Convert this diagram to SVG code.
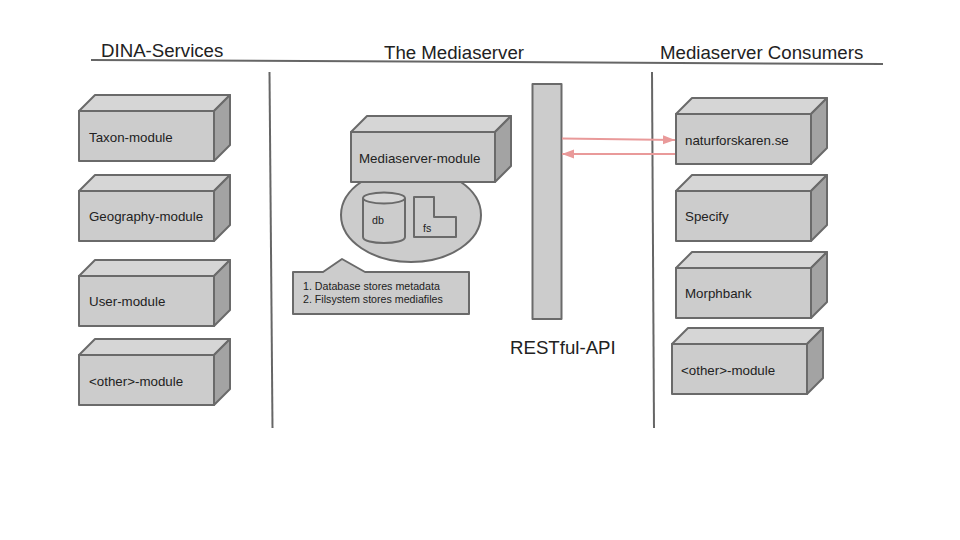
<svg xmlns="http://www.w3.org/2000/svg" width="960" height="540" viewBox="0 0 960 540">
<style>
text{font-family:"Liberation Sans",Arial,sans-serif;fill:#222}
.t{font-size:18.67px}
.l{font-size:13.33px}
.s{font-size:10.67px}
.sh{stroke:#6a6a6a;stroke-width:2;stroke-linejoin:round}
.f{fill:#ccc}
.u{fill:#d6d6d6}
.d{fill:#a3a3a3}
.ln{stroke:#666;stroke-width:2;fill:none}
.ar{stroke:#e99a9a;stroke-width:2;fill:none}
</style>
<defs>
<marker id="a" markerUnits="userSpaceOnUse" markerWidth="12" markerHeight="10" refX="12" refY="5" orient="auto"><path d="M0 0.500L12 5L0 9.500Z" fill="#e99a9a"/></marker>
<g id="box">
<path class="sh u" d="M0 16L16 0H151L135 16Z"/>
<path class="sh d" d="M135 16L151 0V50L135 66Z"/>
<rect class="sh f" x="0" y="16" width="135" height="50"/>
</g>
</defs>
<rect width="960" height="540" fill="#fff"/>
<g id="dividers">
<path class="ln" d="M91 60L883 64"/>
<path class="ln" d="M269.500 72L272.500 428"/>
<path class="ln" d="M652 72L654 428"/>
</g>
<g id="titles">
<text class="t" x="101" y="57">DINA-Services</text>
<text class="t" x="384" y="59">The Mediaserver</text>
<text class="t" x="660" y="59">Mediaserver Consumers</text>
</g>
<g id="taxon"><use href="#box" x="79" y="95"/><text class="l" x="89" y="142">Taxon-module</text></g>
<g id="geography"><use href="#box" x="79" y="175"/><text class="l" x="89" y="221">Geography-module</text></g>
<g id="user"><use href="#box" x="79" y="260"/><text class="l" x="89" y="306">User-module</text></g>
<g id="other-left"><use href="#box" x="79" y="339"/><text class="l" x="89" y="386">&lt;other&gt;-module</text></g>
<g id="storage">
<ellipse class="sh f" cx="411" cy="215" rx="70" ry="47"/>
</g>
<g id="mediaserver">
<path class="sh u" d="M351 132L367 116H511L495 132Z"/>
<path class="sh d" d="M495 132L511 116V166L495 182Z"/>
<rect class="sh f" x="351" y="132" width="144" height="50"/>
<text class="l" x="359" y="163">Mediaserver-module</text>
</g>
<g id="db">
<path class="sh f" d="M363 198V237C363 245 405 245 405 237V198"/>
<ellipse class="sh u" cx="384" cy="198" rx="21" ry="5.500"/>
<text class="s" x="372" y="224">db</text>
</g>
<g id="fs">
<path class="sh f" d="M414 197H434V217H456V237H414Z"/>
<text class="s" x="423" y="232">fs</text>
</g>
<g id="note">
<path class="sh f" d="M293 272H323L342 259L365 272H469V314H293Z"/>
<text class="s" x="303" y="290">1. Database stores metadata</text>
<text class="s" x="303" y="303">2. Filsystem stores mediafiles</text>
</g>
<g id="restful-api">
<rect class="sh f" x="532.500" y="84" width="29" height="235"/>
<text class="t" x="510" y="354">RESTful-API</text>
</g>
<g id="naturforskaren"><use href="#box" x="676" y="98"/><text class="l" x="685" y="145">naturforskaren.se</text></g>
<g id="specify"><use href="#box" x="676" y="175"/><text class="l" x="685" y="221">Specify</text></g>
<g id="morphbank"><use href="#box" x="676" y="252"/><text class="l" x="685" y="298">Morphbank</text></g>
<g id="other-right"><use href="#box" x="672" y="328"/><text class="l" x="681" y="375">&lt;other&gt;-module</text></g>
<g id="connectors">
<path class="ar" d="M562 138.500L675 140" marker-end="url(#a)"/>
<path class="ar" d="M675 154L562 154" marker-end="url(#a)"/>
</g>
</svg>
